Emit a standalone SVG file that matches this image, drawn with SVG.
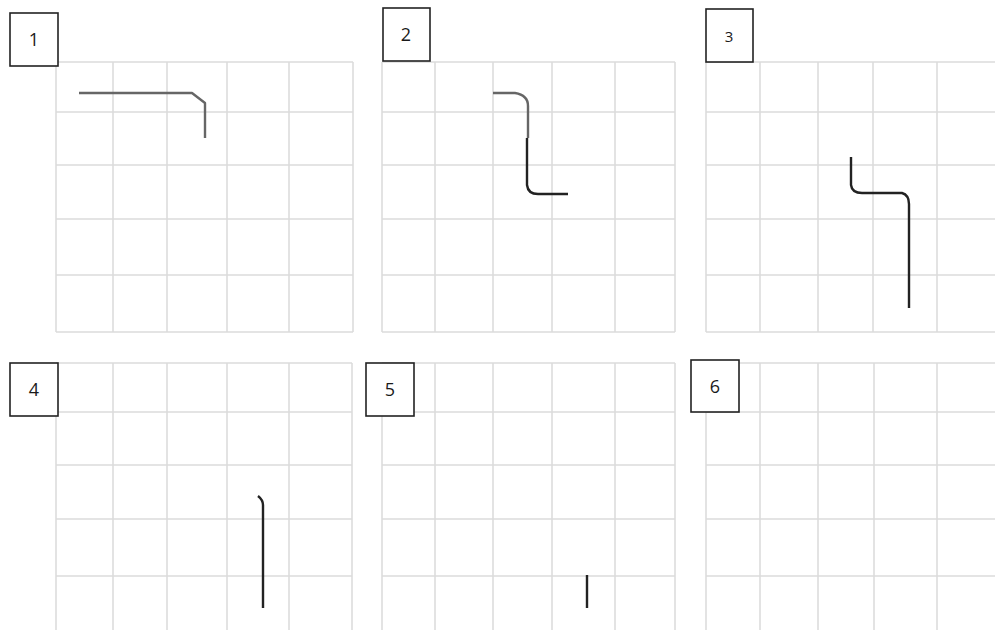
<svg xmlns="http://www.w3.org/2000/svg" width="995" height="630" viewBox="0 0 995 630">
<style>
.g{stroke:#dcdcdc;stroke-width:1.6;fill:none}
.lbl{fill:#fff;stroke:#222;stroke-width:1.6}
.t{font-family:"Open Sans","Liberation Sans",Arial,sans-serif;font-size:18px;fill:#1a1a1a;text-anchor:middle}
.w{fill:none;stroke:#222;stroke-width:2.4;stroke-linejoin:round;stroke-linecap:butt}
.wg{fill:none;stroke:#666;stroke-width:2.4;stroke-linejoin:round}
</style>
<rect width="995" height="630" fill="#fff"/>
<g id="grids">
<g id="grid1" class="g">
<path d="M56 62V332M113 62V332M167 62V332M227 62V332M289 62V332M353 62V332"/>
<path d="M56 62H353M56 112H353M56 165H353M56 219H353M56 275H353M56 332H353"/>
</g>
<g id="grid2" class="g">
<path d="M382 62V332M435 62V332M493 62V332M552 62V332M615 62V332M675 62V332"/>
<path d="M382 62H675M382 112H675M382 165H675M382 219H675M382 275H675M382 332H675"/>
</g>
<g id="grid3" class="g">
<path d="M706 62V332M760 62V332M818 62V332M873 62V332M937 62V332"/>
<path d="M706 62H995M706 112H995M706 165H995M706 219H995M706 275H995M706 332H995"/>
</g>
<g id="grid4" class="g">
<path d="M56 363V630M113 363V630M167 363V630M227 363V630M289 363V630M352 363V630"/>
<path d="M56 363H352M56 412H352M56 465H352M56 519H352M56 576H352"/>
</g>
<g id="grid5" class="g">
<path d="M382 363V630M435 363V630M493 363V630M552 363V630M615 363V630M675 363V630"/>
<path d="M382 363H675M382 412H675M382 465H675M382 519H675M382 576H675"/>
</g>
<g id="grid6" class="g">
<path d="M706 363V630M760 363V630M818 363V630M874 363V630M937 363V630"/>
<path d="M706 363H995M706 412H995M706 465H995M706 519H995M706 576H995"/>
</g>
</g>
<g id="connectors">
<path class="wg" d="M79 93H192L205 103V138"/>
<path class="wg" d="M493 93H515Q528 95 528 106V138"/>
<path class="w" d="M527 138V185Q528 194 538 194H568"/>
<path class="w" d="M851 157V185Q852 193 862 193H902Q909 195 909 204V308"/>
<path class="w" d="M258 496Q263 500 263 505V608"/>
<path class="w" d="M587 575V608"/>
</g>
<g id="node1"><rect class="lbl" x="10" y="13" width="48" height="53"/><text class="t" x="34" y="46">1</text></g>
<g id="node2"><rect class="lbl" x="383" y="8" width="47" height="53"/><text class="t" x="406" y="41">2</text></g>
<g id="node3"><rect class="lbl" x="706" y="9" width="47" height="53"/><text class="t" x="729" y="42" style="font-size:15px">3</text></g>
<g id="node4"><rect class="lbl" x="10" y="363" width="48" height="53"/><text class="t" x="34" y="396">4</text></g>
<g id="node5"><rect class="lbl" x="366" y="363" width="48" height="53"/><text class="t" x="390" y="396">5</text></g>
<g id="node6"><rect class="lbl" x="691" y="360" width="48" height="52"/><text class="t" x="715" y="393">6</text></g>
</svg>
